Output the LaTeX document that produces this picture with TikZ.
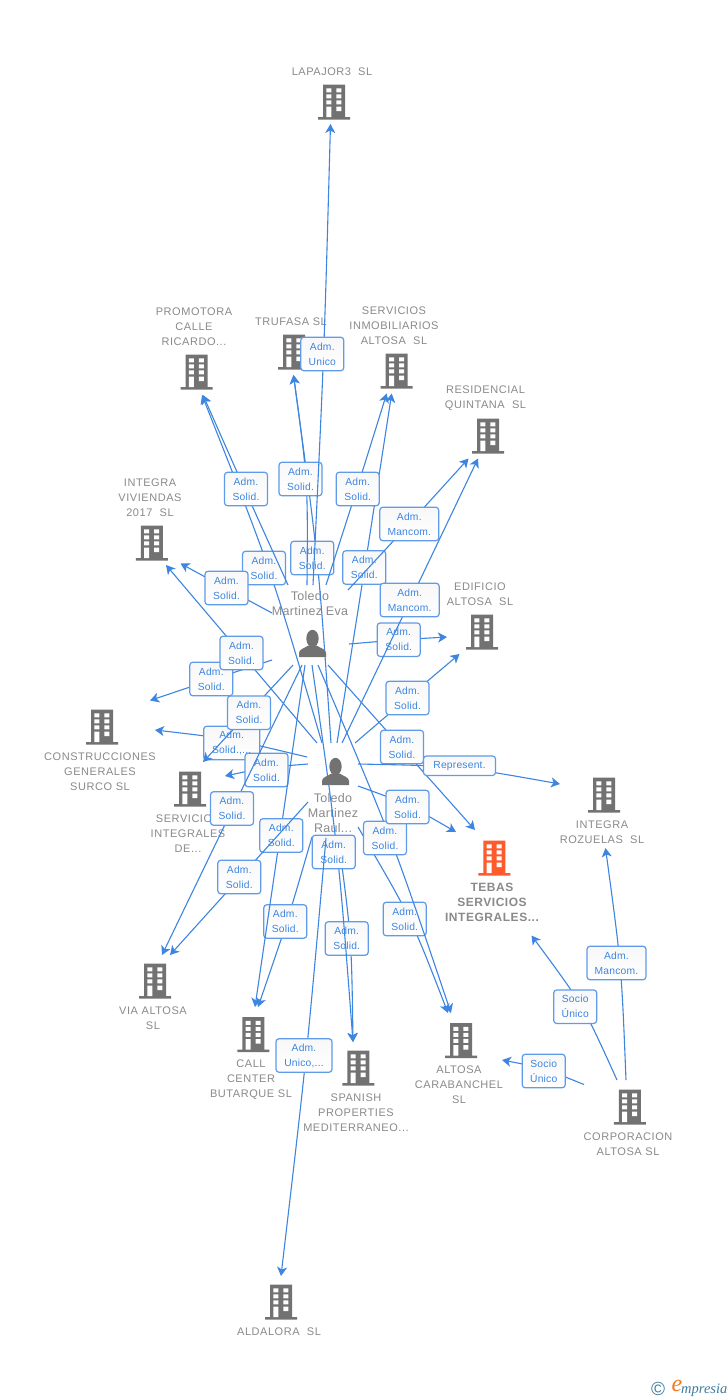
\documentclass[tikz,border=0pt]{standalone}
\usepackage{fontspec}
\setmainfont{Liberation Sans}
\newfontfamily\capfont[LetterSpace=5]{Liberation Sans}
\newfontfamily\topfont[LetterSpace=4.5]{Liberation Sans}
\newfontfamily\perfont[LetterSpace=2.5]{Liberation Sans}
\newfontfamily\lblfont[LetterSpace=2]{Liberation Sans}
\newfontfamily\logofont{Liberation Serif}
\usetikzlibrary{arrows.meta,calc,positioning}
\pgfdeclarelayer{icons}
\pgfsetlayers{main,icons}
\definecolor{linkblue}{HTML}{3D85E0}
\definecolor{boxblue}{HTML}{5F9BE8}
\definecolor{lbltext}{HTML}{3D85E0}
\definecolor{icongray}{HTML}{727272}
\definecolor{captext}{HTML}{8A8A8A}
\definecolor{hot}{HTML}{FF5A2B}
\definecolor{logoblue}{HTML}{3F7C9E}
\definecolor{logoorange}{HTML}{F07A1A}
\tikzset{
  link/.style={draw=linkblue,line width=1.1pt,-{Stealth[length=9pt,width=10pt,inset=2.5pt]}},
  lbl/.style={draw=boxblue,line width=1.2pt,rounded corners=3pt,top color=black!3,bottom color=white,
    minimum width=43pt,minimum height=33.5pt,inner sep=0pt,align=center,text=lbltext,
    font=\lblfont\fontsize{10.3}{15}\selectfont},
  lblmid/.style={lbl,minimum width=56pt},
  lblwide/.style={lbl,minimum width=59pt},
  lblflat/.style={lbl,minimum width=72pt,minimum height=19.5pt},
  orgname/.style={text=captext,align=center,inner sep=0pt,yshift=-0.8pt,font=\capfont\fontsize{11}{15}\selectfont},
  orgtop/.style={text=captext,align=center,inner sep=0pt,yshift=-0.5pt,font=\topfont\bfseries\fontsize{12}{15}\selectfont},
  pername/.style={text=captext,align=center,inner sep=0pt,font=\perfont\fontsize{12.5}{15}\selectfont},
  bldg/.style={minimum width=32pt,minimum height=35pt,inner sep=0pt,path picture={
    \begin{scope}[shift={(path picture bounding box.center)}]
      \fill[#1] (-11,-17.5) rectangle (11,15) (-16,15) rectangle (16,17.5);
      \fill[white] (-7.7,-13.7) rectangle (-2.7,-9.7) (2.3,-13.7) rectangle (7.3,-9.7)
        (-7.7,-7.7) rectangle (-2.7,-3.7) (2.3,-7.7) rectangle (7.3,-3.7)
        (-7.7,-1.7) rectangle (-2.7,2.3) (2.3,-1.7) rectangle (7.3,2.3)
        (-7.7,4.5) rectangle (-2.7,15) (2.3,4.5) rectangle (7.3,9);
    \end{scope}}},
  bldg/.default=icongray,
  person/.style={minimum width=28pt,minimum height=28pt,inner sep=0pt,path picture={
    \begin{scope}[shift={(path picture bounding box.center)}]
      \fill[icongray] (0,-5) ellipse (6.2 and 8.7);
      \fill[icongray] (-13.5,13.5) -- (-13.5,9.5) .. controls (-13.5,6) and (-9,5) .. (-4,2) -- (4,2)
        .. controls (9,5) and (13.5,6) .. (13.5,9.5) -- (13.5,13.5) -- cycle;
    \end{scope}}},
}
% id, start, point on the curve, end, label position, label style, label text
\newcommand\rel[7]{%
  \coordinate (#1s) at (#2);
  \coordinate (#1e) at (#4);
  \draw[link] (#1s) .. controls ($(#1s)!.5!(#1e)!1.333!(#3)$) .. (#1e);
  \node[#6] (#1) at (#5) {#7};
}
\begin{document}
\begin{tikzpicture}[x=1pt,y=-1pt]
\useasboundingbox (0,0) rectangle (728,1400);
\fill[white] (0,0) rectangle (728,1400);

% companies
\node[bldg] (lapajor) at (334,102) {};
\node[orgname] (lapajort) at (332,71) {LAPAJOR3~~SL};
\node[bldg] (promotora) at (196.5,372) {};
\node[orgname] (promotorat) at (194,326) {PROMOTORA\\CALLE\\RICARDO...};
\node[bldg] (trufasa) at (294,352) {};
\node[orgname] (trufasat) at (291,321) {TRUFASA SL};
\node[bldg] (servinm) at (396.7,371) {};
\node[orgname] (servinmt) at (394,325) {SERVICIOS\\INMOBILIARIOS\\ALTOSA~~SL};
\node[bldg] (residencial) at (488,436) {};
\node[orgname] (residencialt) at (485.5,397.5) {RESIDENCIAL\\QUINTANA~~SL};
\node[bldg] (integrav) at (151.8,543) {};
\node[orgname] (integravt) at (150,497) {INTEGRA\\VIVIENDAS\\2017~~SL};
\node[bldg] (edificio) at (482,632) {};
\node[orgname] (edificiot) at (480,593.5) {EDIFICIO\\ALTOSA~~SL};
\node[bldg] (construcc) at (102,727) {};
\node[orgname] (construcct) at (100,771) {CONSTRUCCIONES\\GENERALES\\SURCO SL};
\node[bldg] (servint) at (190,789) {};
\node[orgname] (servintt) at (188,833) {SERVICIOS\\INTEGRALES\\DE...};
\node[bldg] (rozuelas) at (604,795) {};
\node[orgname] (rozuelast) at (602,831.5) {INTEGRA\\ROZUELAS~~SL};
\node[bldg=hot] (tebas) at (494.3,858) {};
\node[orgtop] (tebast) at (492,902) {TEBAS\\SERVICIOS\\INTEGRALES...};
\node[bldg] (via) at (155,981) {};
\node[orgname] (viat) at (153,1017.5) {VIA ALTOSA\\SL};
\node[bldg] (call) at (253.3,1034.5) {};
\node[orgname] (callt) at (251,1079) {CALL\\CENTER\\BUTARQUE SL};
\node[bldg] (spanish) at (358.3,1068) {};
\node[orgname] (spanisht) at (356,1112) {SPANISH\\PROPERTIES\\MEDITERRANEO...};
\node[bldg] (carabanchel) at (461,1040.5) {};
\node[orgname] (carabanchelt) at (459,1084) {ALTOSA\\CARABANCHEL\\SL};
\node[bldg] (corporacion) at (629.8,1107) {};
\node[orgname] (corporaciont) at (628,1143.5) {CORPORACION\\ALTOSA SL};
\node[bldg] (aldalora) at (281,1302) {};
\node[orgname] (aldalorat) at (279,1331) {ALDALORA~~SL};

% persons (icons above the connectors)
\begin{pgfonlayer}{icons}
\node[person] (eva) at (312.5,643.5) {};
\node[person] (raul) at (335.5,771.5) {};
\end{pgfonlayer}
\node[pername] (evat) at (310,603.5) {Toledo\\Martinez Eva};
\node[pername] (rault) at (333,813) {Toledo\\Martinez\\Raul...};

% Raul first
\rel{rpro}{322,743}{269,570}{202,395}{264,568}{lbl}{Adm.\\Solid.}
\rel{rtru}{331,743}{317,560}{293.5,375}{312.3,558}{lbl}{Adm.\\Solid.}
\rel{rsin}{337,743}{364.5,569}{391.7,393.5}{364.3,567.5}{lbl}{Adm.\\Solid.}
\rel{rcon}{307,757}{231,740}{155,730}{231.7,743}{lblmid}{Adm.\\Solid.,...}
\rel{rsit}{308,764}{266,768}{225,776}{266.5,770}{lbl}{Adm.\\Solid.}
\rel{rcar}{358,827}{409,918}{448,1013}{404.7,919}{lbl}{Adm.\\Solid.}
\rel{rspa}{338,836}{350,938}{353,1042}{346.7,938.5}{lbl}{Adm.\\Solid.}
\rel{rcal}{312,837}{287,921}{258,1007}{285.3,921.5}{lbl}{Adm.\\Solid.}

% Eva
\rel{epro}{288,585}{245.5,491}{203,395}{246,489}{lbl}{Adm.\\Solid.}
\rel{etru}{307,585}{306,481}{293.5,375}{300.5,479}{lbl}{Adm.\\Solid.}
\rel{esin}{326,585}{356.5,490}{386.7,393.5}{357.7,489}{lbl}{Adm.\\Solid.}
\rel{eres}{348,590}{408,525}{468.5,458.5}{409.3,524}{lblwide}{Adm.\\Mancom.}
\rel{eedi}{349,644}{398,640}{447,637}{398.7,639.7}{lbl}{Adm.\\Solid.}
\rel{eint}{272,613}{226.5,588.5}{180.5,563.5}{226.5,588}{lbl}{Adm.\\Solid.}
\rel{econ}{272,660}{211,680}{150,700.5}{211.3,679}{lbl}{Adm.\\Solid.}
\rel{esit}{293,665}{248,713.5}{203,762}{249,712.7}{lbl}{Adm.\\Solid.}
\rel{evia}{302,665}{232,810}{162,955}{232,808.5}{lbl}{Adm.\\Solid.}
\rel{ecal}{305,665}{280,836}{255,1007}{281.3,835.5}{lbl}{Adm.\\Solid.}
\rel{espa}{312,665}{337,852}{353,1042}{333.7,852}{lbl}{Adm.\\Solid.}
\rel{ecar}{318,665}{390,838}{451,1013}{385,838}{lbl}{Adm.\\Solid.}
\rel{eteb}{328,665}{401.5,747.5}{475,830}{402,747}{lbl}{Adm.\\Solid.}

% the connectors that run over the labels above
\rel{rres}{342,743}{410,601}{478,458.5}{409.7,600}{lblwide}{Adm.\\Mancom.}
\rel{redi}{355,743}{407,698.5}{459.5,654}{407.5,698}{lbl}{Adm.\\Solid.}
\rel{rint}{317,743}{241.5,654}{166,565}{241.5,653}{lbl}{Adm.\\Solid.}
\rel{rvia}{308,802}{239,878.5}{170,955}{239.3,877}{lbl}{Adm.\\Solid.}
\rel{rteb}{358,786}{407,805}{456,832}{407.5,807}{lbl}{Adm.\\Solid.}
\rel{rrep}{358,764}{459,768}{560,784}{459.5,765.7}{lblflat}{Represent.}
\rel{rald}{326,838}{306,1056}{281,1276}{304,1055.5}{lblmid}{Adm.\\Unico,...}
\rel{elap}{313,585}{323.5,355}{330.5,124}{322.3,354}{lbl}{Adm.\\Unico}

% Corporacion
\rel{coz}{626,1080}{620,965}{605.5,848}{616.5,963}{lblwide}{Adm.\\Mancom.}
\rel{cot}{617,1080}{581,1006}{531.5,935.5}{575.2,1006.7}{lbl}{Socio\\Único}
\rel{coa}{584,1084.5}{543,1069}{502,1060}{543.7,1071}{lbl}{Socio\\Único}

% logo
\node[inner sep=0pt,text=logoblue,font=\fontsize{19}{19}\selectfont] (logoc) at (658,1389) {©};
\node[inner sep=0pt,text=logoorange,font=\logofont\itshape\fontsize{24}{24}\selectfont] (logoe) at (677,1386) {e};
\node[inner sep=0pt,anchor=base west,text=logoblue,font=\logofont\itshape\fontsize{14.5}{14}\selectfont] (logot) at (681,1393) {mpresia};
\end{tikzpicture}
\end{document}
